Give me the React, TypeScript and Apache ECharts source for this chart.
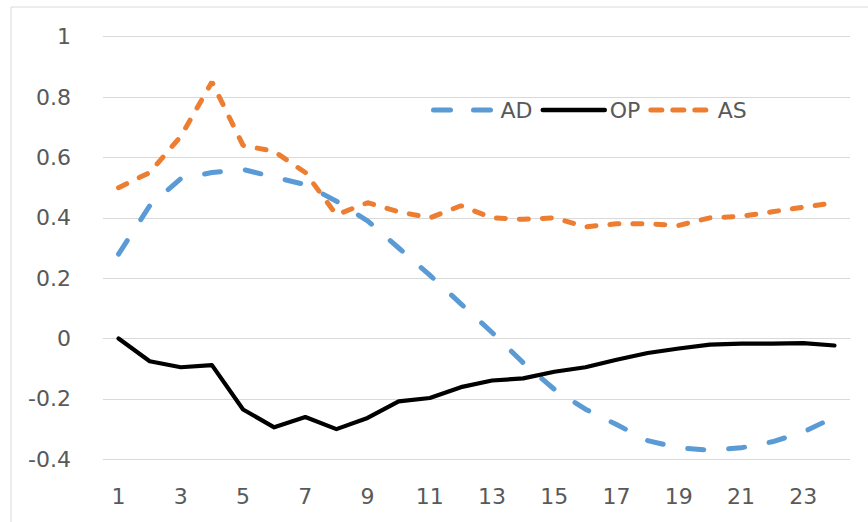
import React, { useEffect, useRef } from "react";
import * as echarts from "echarts";

const categories = Array.from({ length: 24 }, (_, i) => String(i + 1));
const yTicks = { min: -0.4, max: 1, interval: 0.2 };
const legendNames = ["AD", "OP", "AS"];

const adValues = [0.28, 0.44, 0.53, 0.55, 0.56, 0.535, 0.51, 0.455, 0.39, 0.30, 0.21, 0.115, 0.02, -0.08, -0.168, -0.234, -0.285, -0.338, -0.362, -0.37, -0.362, -0.342, -0.31, -0.26];
const opValues = [0.0, -0.075, -0.095, -0.088, -0.235, -0.294, -0.26, -0.30, -0.263, -0.208, -0.197, -0.161, -0.139, -0.132, -0.11, -0.095, -0.07, -0.048, -0.033, -0.02, -0.017, -0.017, -0.015, -0.023];
const asValues = [0.50, 0.55, 0.67, 0.85, 0.64, 0.62, 0.55, 0.41, 0.45, 0.42, 0.40, 0.44, 0.40, 0.395, 0.40, 0.37, 0.38, 0.38, 0.375, 0.40, 0.405, 0.42, 0.435, 0.45];

const FONT = "DejaVu Sans";
const TEXT_COLOR = "#595959";
const BLUE = "#5B9BD5";
const ORANGE = "#ED7D31";

export default function App() {
  const ref = useRef<HTMLDivElement>(null);
  useEffect(() => {
    if (!ref.current) return;
    const chart = echarts.init(ref.current, null, { renderer: "svg" });
    chart.setOption({
      animation: false,
      backgroundColor: "#ffffff",
      grid: { left: 103, right: 18, top: 36.7, bottom: 62.7, containLabel: false },
      graphic: [
        {
          type: "rect",
          shape: { x: 11, y: 7, width: 900, height: 600 },
          style: { fill: "none", stroke: "#d9d9d9", lineWidth: 1 },
          silent: true,
        },
      ],
      legend: {
        left: 426,
        top: 94,
        itemWidth: 62,
        itemHeight: 6,
        itemGap: 8,
        itemStyle: { opacity: 0 },
        textStyle: { fontFamily: FONT, fontSize: 22, color: TEXT_COLOR, padding: [0, 0, 0, 0] },
        data: [
          { name: legendNames[0], lineStyle: { width: 5, type: [17, 23], cap: "round", color: BLUE } },
          { name: legendNames[1], lineStyle: { width: 4.5, type: "solid", cap: "round", color: "#000" } },
          { name: legendNames[2], lineStyle: { width: 5, type: [11, 11], cap: "round", color: ORANGE } },
        ],
      },
      xAxis: {
        type: "category",
        data: categories,
        boundaryGap: true,
        axisLine: { show: true, lineStyle: { color: "#d9d9d9", width: 1 } },
        axisTick: { show: false },
        axisLabel: {
          interval: 1,
          fontFamily: FONT,
          fontSize: 22,
          color: TEXT_COLOR,
          margin: 26,
        },
        splitLine: { show: false },
      },
      yAxis: {
        type: "value",
        min: yTicks.min,
        max: yTicks.max,
        interval: yTicks.interval,
        axisLine: { show: false },
        axisTick: { show: false },
        axisLabel: {
          fontFamily: FONT,
          fontSize: 22,
          color: TEXT_COLOR,
          margin: 32,
        },
        splitLine: { show: true, lineStyle: { color: "#d9d9d9", width: 1 } },
      },
      series: [
        {
          name: legendNames[0],
          type: "line",
          data: adValues,
          symbol: "none",
          itemStyle: { color: BLUE },
          lineStyle: { color: BLUE, width: 5, type: [16, 25], cap: "round" },
          z: 3,
        },
        {
          name: legendNames[1],
          type: "line",
          data: opValues,
          symbol: "none",
          itemStyle: { color: "#000000" },
          lineStyle: { color: "#000000", width: 4.2, type: "solid", cap: "round", join: "round" },
          z: 4,
        },
        {
          name: legendNames[2],
          type: "line",
          data: asValues,
          symbol: "none",
          itemStyle: { color: ORANGE },
          lineStyle: { color: ORANGE, width: 5, type: [9, 14], cap: "round" },
          z: 5,
        },
      ],
    });
    return () => chart.dispose();
  }, []);
  return (
    <div
      ref={ref}
      style={{ position: "absolute", left: 0, top: 0, width: 868, height: 522, background: "#fff" }}
    />
  );
}
